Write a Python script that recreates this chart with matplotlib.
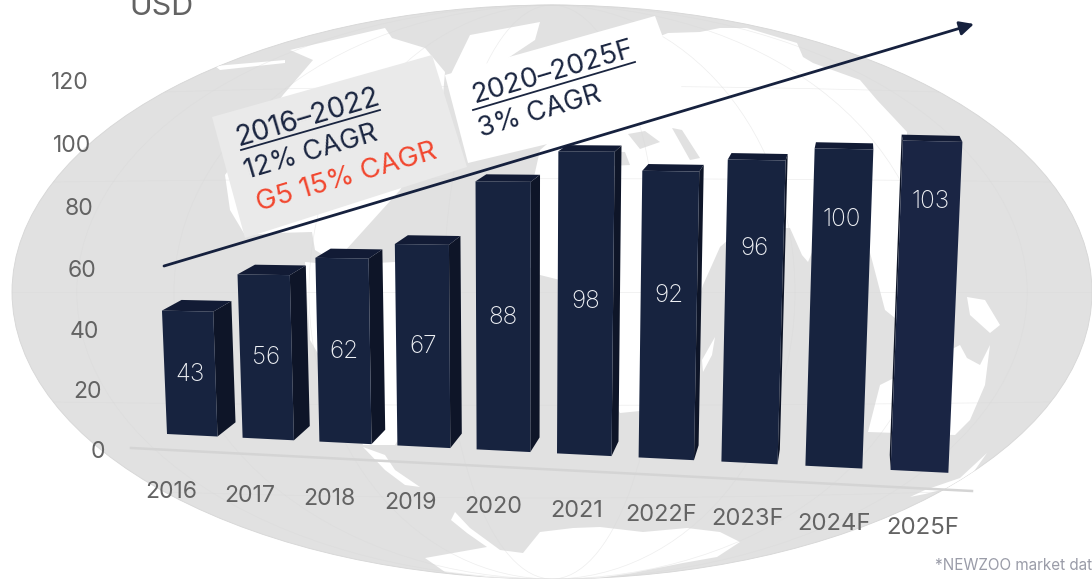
import matplotlib
matplotlib.use('Agg')
import matplotlib.pyplot as plt
import numpy as np
from matplotlib.patches import Ellipse, Polygon

years = ['2016', '2017', '2018', '2019', '2020', '2021', '2022F', '2023F', '2024F', '2025F']
revenue = [43, 56, 62, 67, 88, 98, 92, 96, 100, 103]
y_ticks = [0, 20, 40, 60, 80, 100, 120]

plt.rcParams['font.family'] = ['Inter', 'Lato', 'DejaVu Sans']

NAVY = '#17233f'
SIDE = '#0e1528'
TOP = '#121b35'
GREY_TEXT = '#636363'
OCEAN = '#e1e1e1'

fig = plt.figure(figsize=(10.92, 5.79), dpi=100)
ax = fig.add_axes([0, 0, 1, 1])
ax.set_xlim(0, 1092)
ax.set_ylim(579, 0)
ax.axis('off')

# world map backdrop
globe = Ellipse((552, 292), 1080, 574, fc=OCEAN, ec='#d6d6d6', lw=0.6, zorder=1)
ax.add_patch(globe)

land = [
    # north america
    [(290, 50), (385, 28), (392, 38), (425, 48), (445, 72), (440, 130), (400, 190), (335, 262), (315, 250),
     (312, 232), (277, 233), (245, 235), (230, 210), (225, 175), (283, 95), (313, 60)],
    [(215, 66), (285, 60), (285, 63), (220, 70)],
    # greenland and the arctic islands
    [(470, 35), (540, 22), (535, 40), (505, 60), (450, 76)],
    # south america
    [(305, 262), (340, 265), (395, 262), (445, 300), (440, 350), (410, 420), (395, 445), (363, 445), (345, 400), (310, 340)],
    [(363, 447), (385, 455), (395, 470), (420, 487), (405, 485), (385, 470)],
    # africa and eurasia
    [(530, 195), (540, 150), (567, 127), (600, 60), (668, 33), (700, 32), (720, 28), (747, 28), (797, 43), (803, 57),
     (813, 63), (860, 80), (877, 100), (893, 117), (907, 132), (905, 240), (900, 322), (885, 310), (872, 260),
     (862, 225), (815, 222), (813, 250), (808, 262), (802, 255), (790, 228), (740, 228), (728, 240), (720, 247),
     (712, 265), (703, 285), (690, 330), (680, 380), (650, 410), (620, 413), (600, 380), (580, 320), (560, 280),
     (540, 275), (520, 260), (515, 230)],
    # madagascar
    [(715, 337), (712, 355), (703, 372), (702, 360)],
    # australia and new guinea
    [(880, 385), (960, 345), (967, 358), (980, 365), (990, 345), (985, 385), (970, 420), (955, 435), (868, 432)],
    [(967, 297), (985, 300), (1000, 325), (990, 333), (970, 315)],
    # new zealand
    [(987, 453), (960, 478), (925, 490), (910, 497), (925, 494), (965, 484)],
    # antarctica
    [(455, 512), (451, 520), (467, 533), (487, 547), (425, 558), (445, 572), (552, 585), (633, 573), (683, 563),
     (717, 557), (740, 542), (720, 532), (687, 528), (643, 532), (600, 527), (573, 528), (540, 532), (523, 553),
     (500, 550), (470, 528)],
]
for shape in land:
    p = Polygon(shape, closed=True, fc='white', ec='none', zorder=2)
    ax.add_patch(p)
    p.set_clip_path(globe)

# inland seas
seas = [
    [(628, 134), (645, 131), (660, 142), (640, 149)],
    [(672, 128), (682, 130), (700, 158), (690, 160)],
    [(560, 150), (625, 152), (630, 165), (570, 168)],
]
for shape in seas:
    ax.add_patch(Polygon(shape, closed=True, fc=OCEAN, ec='none', zorder=2))

# graticule
for k in [0.2, 0.45, 0.7, 0.88]:
    g = Ellipse((552, 292), 1080 * k, 574, fc='none', ec='#d8d8d8', lw=0.5, alpha=0.45, zorder=3)
    ax.add_patch(g)
t = np.linspace(-1, 1, 60)
for lat in [-200, -110, 0, 110, 200]:
    width = 540 * np.sqrt(1 - (lat / 287) ** 2)
    line, = ax.plot(552 + width * t, 292 + lat + 0.03 * lat * (1 - t ** 2), color='#d8d8d8', lw=0.5, alpha=0.45, zorder=3)
    line.set_clip_path(globe)

# floor line
ax.plot([131, 972], [448, 491], color='#d4d4d4', lw=1.8, zorder=3)

# callout boxes
ax.add_patch(Polygon([(212, 117), (432, 55), (467, 167), (245, 238)], fc='#eaeaea', ec='none', zorder=4))
ax.add_patch(Polygon([(445, 75), (655, 16), (690, 110), (468, 163)], fc='white', ec='none', zorder=4))

# growth arrow
ax.annotate('', xy=(974, 24), xytext=(164, 266), zorder=6,
            arrowprops=dict(arrowstyle='-|>,head_length=0.85,head_width=0.42', color='#16213e', lw=2,
                            shrinkA=0, shrinkB=0))

bar_width = 0.67


# front plane of the bars: (slot, value) -> pixels, widening towards the right
def to_px(u, v):
    x0 = 167 + 75 * u + 0.6 * u ** 2
    y0 = 434 + 0.0497 * (x0 - 167)
    scale = 2.87 + 0.05 * u - 0.0015 * u ** 2
    return np.array([x0 + (-0.117 + 0.0262 * u) * v, y0 - scale * v])


# rear corners recede towards one vanishing point
VP = np.array([860.0, -70.0])


def back(p):
    return p + 0.028 * (VP - p)


label_height = [0.5, 0.5, 0.5, 0.5, 0.5, 0.51, 0.57, 0.71, 0.78, 0.82]

for i, val in enumerate(revenue):
    bl, br = to_px(i, 0), to_px(i + bar_width, 0)
    tl, tr = to_px(i, val), to_px(i + bar_width, val)
    fc = NAVY if i < 9 else '#1a2544'
    if back(br)[0] > br[0]:
        ax.add_patch(Polygon([br, tr, back(tr), back(br)], fc=SIDE, ec='none', zorder=7))
    if back(bl)[0] < bl[0]:
        ax.add_patch(Polygon([bl, tl, back(tl), back(bl)], fc=SIDE, ec='none', zorder=7))
    ax.add_patch(Polygon([tl, tr, back(tr), back(tl)], fc=TOP, ec='none', zorder=7))
    ax.add_patch(Polygon([bl, br, tr, tl], fc=fc, ec='none', zorder=8))
    pos = to_px(i + bar_width / 2, val * label_height[i])
    ax.text(pos[0], pos[1] + 1, str(val), color='#eef0f4', fontsize=17.5, fontweight='light', ha='center',
            va='center', zorder=9)
    mid = to_px(i + bar_width / 2, 0)
    ax.text(mid[0] - 21 + 2.7 * i, mid[1] + 56.5, years[i], color=GREY_TEXT, fontsize=16.5 * (1 + 0.005 * i),
            ha='center', va='center', zorder=9)

for v in y_ticks:
    ax.text(105 - 0.14 * v, 451.5 - 2.96 * v / (1 - 0.00031 * v), str(v), color=GREY_TEXT, fontsize=16.5,
            ha='right', va='center', zorder=9)

ax.text(162, 7, 'USD', color=GREY_TEXT, fontsize=22, ha='center', va='center', zorder=9)

# callout texts
ax.text(308, 118, '2016–2022', color='#1a2540', fontsize=20.5, rotation=16.5, ha='center',
        va='center', rotation_mode='anchor', zorder=9)
ax.plot([241, 380], [150, 110], color='#1a2540', lw=1.3, zorder=9)
ax.text(311, 153, '12% CAGR', color='#1a2540', fontsize=19.5, rotation=16.5, ha='center',
        va='center', rotation_mode='anchor', zorder=9)
ax.text(347, 178, 'G5 15% CAGR', color='#f2472f', fontsize=20, rotation=16.5, ha='center',
        va='center', rotation_mode='anchor', zorder=9)
ax.text(553, 72, '2020–2025F', color='#1a2540', fontsize=20, rotation=16.5, ha='center',
        va='center', rotation_mode='anchor', zorder=9)
ax.plot([473, 635], [110, 62], color='#1a2540', lw=1.3, zorder=9)
ax.text(540, 112, '3% CAGR', color='#1a2540', fontsize=19.5, rotation=16.5, ha='center',
        va='center', rotation_mode='anchor', zorder=9)

ax.text(935, 565, '*NEWZOO market data', color='#9a9ca8', fontsize=11, ha='left', va='center', zorder=9)

fig.savefig('out.png', dpi=100)
